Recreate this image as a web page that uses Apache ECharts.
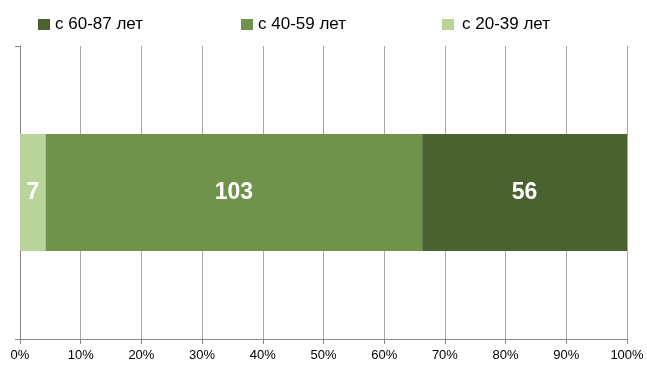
<!DOCTYPE html>
<html><head><meta charset="utf-8">
<script src="https://cdn.jsdelivr.net/npm/echarts@6/dist/echarts.min.js"></script>
<style>html,body{margin:0;padding:0;background:#fff}#c{width:647px;height:365px}</style>
</head><body><div id="c"></div>
<script>
const categories = ['Возраст'];
const seriesNames = ['с 20-39 лет', 'с 40-59 лет', 'с 60-87 лет'];
const counts = [[7], [103], [56]];
const colors = ['#b8d49b', '#71924a', '#4a6130'];
const tickLabels = ['0%','10%','20%','30%','40%','50%','60%','70%','80%','90%','100%'];

const totals = categories.map((_, i) => counts.reduce((s, a) => s + a[i], 0));
const font = 'Liberation Sans, Arial, sans-serif';
const chart = echarts.init(document.getElementById('c'));
const legendPos = [442, 241, 38];
chart.setOption({
  animation: false,
  textStyle: { fontFamily: font },
  grid: { left: 20, right: 20, top: 46, bottom: 26, containLabel: false },
  legend: seriesNames.map((n, i) => ({
    data: [n], left: legendPos[i], top: 16, itemWidth: 12, itemHeight: 11, padding: 0,
    icon: 'rect', textStyle: { fontSize: 17, color: '#000', fontFamily: font, padding: [0, 0, 0, i === 0 ? 3 : 0] }
  })),
  xAxis: {
    type: 'value', min: 0, max: 100, interval: 10,
    axisLine: { show: true, lineStyle: { color: '#868686' } },
    axisTick: { show: true, length: 5, lineStyle: { color: '#868686' } },
    axisLabel: { fontSize: 13, color: '#000', margin: 10, formatter: v => tickLabels[Math.round(v / 10)] },
    splitLine: { show: true, lineStyle: { color: '#a6a6a6' } }
  },
  yAxis: {
    type: 'category', data: categories,
    axisLine: { show: true, lineStyle: { color: '#868686' } },
    axisTick: { show: true, length: 5, lineStyle: { color: '#868686' } },
    axisLabel: { show: false }
  },
  series: seriesNames.map((n, i) => ({
    name: n, type: 'bar', stack: 'all', barWidth: '40%',
    itemStyle: { color: colors[i] },
    data: counts[i].map((v, j) => ({ value: v / totals[j] * 100, raw: v })),
    label: { show: true, position: 'inside', color: '#fff', fontWeight: 'bold', fontSize: 23,
      fontFamily: font, formatter: p => p.data.raw }
  }))
});
</script></body></html>
